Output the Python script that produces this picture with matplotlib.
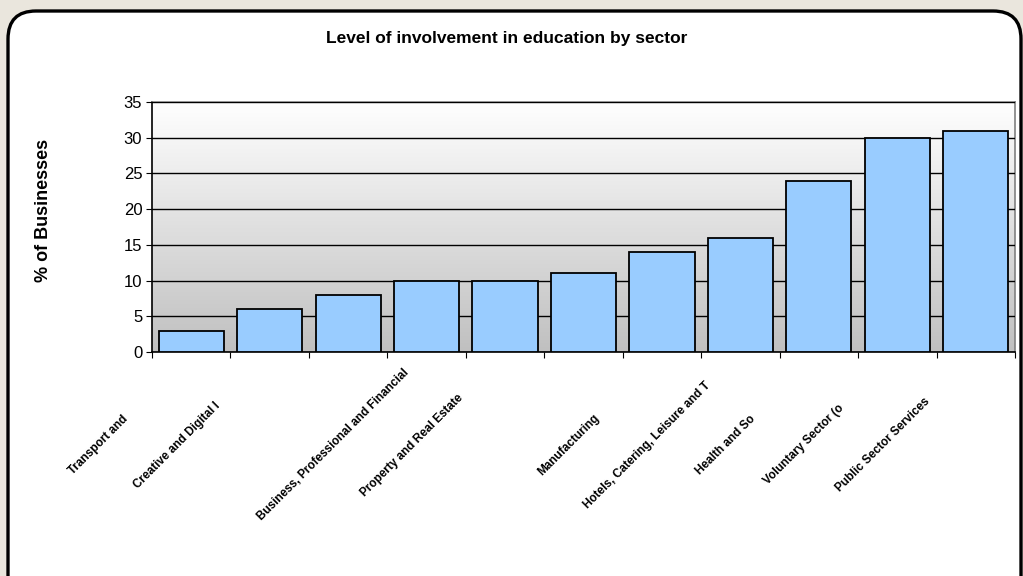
import numpy as np
import matplotlib
matplotlib.use("Agg")
import matplotlib.pyplot as plt
from matplotlib.patches import FancyBboxPatch
from matplotlib.transforms import blended_transform_factory, ScaledTranslation

plt.rcParams["font.family"] = ["Liberation Sans", "DejaVu Sans"]

# --- Data ---
sectors = [
    "Transport and",
    "Creative and Digital I",
    "",
    "Business, Professional and Financial",
    "Property and Real Estate",
    "",
    "Manufacturing",
    "Hotels, Catering, Leisure and T",
    "Health and So",
    "Voluntary Sector (o",
    "Public Sector Services",
]
pct_businesses = [3, 6, 8, 10, 10, 11, 14, 16, 24, 30, 31]
y_ticks = [0, 5, 10, 15, 20, 25, 30, 35]

# --- Colours ---
slide_bg = "#EAE6DD"
bar_color = "#99CCFF"

fig = plt.figure(figsize=(10.23, 5.76), dpi=100)
fig.patch.set_facecolor(slide_bg)

# rounded white panel behind the chart
panel = FancyBboxPatch((0.08, -0.4), 10.13, 6.05,
                       boxstyle="round,pad=0,rounding_size=0.28",
                       transform=fig.dpi_scale_trans,
                       facecolor="white", edgecolor="black", linewidth=2.4,
                       zorder=-5)
fig.patches.append(panel)

ax = fig.add_axes([152 / 1023, 1 - 352 / 576, 863 / 1023, 250 / 576])
ax.set_facecolor("none")

# grey gradient plot area
grad = np.linspace(1.0, 0.0, 256).reshape(-1, 1)
ax.imshow(grad, extent=[0, 1, 0, 1], transform=ax.transAxes, aspect="auto",
          cmap=matplotlib.colors.LinearSegmentedColormap.from_list(
              "plotarea", ["#C0C0C0", "#FFFFFF"]),
          vmin=0, vmax=1, zorder=0)

x = np.arange(len(pct_businesses))
ax.bar(x, pct_businesses, width=0.83, color=bar_color, edgecolor="black",
       linewidth=1.3, zorder=3)

ax.set_xlim(-0.5, len(pct_businesses) - 0.5)
ax.set_ylim(0, 35)
ax.set_yticks(y_ticks)
ax.set_yticklabels([str(v) for v in y_ticks], fontsize=12)
ax.yaxis.grid(True, color="black", linewidth=1, zorder=1)
ax.set_axisbelow(False)

# ticks between categories on the x axis
ax.set_xticks(np.arange(len(pct_businesses) + 1) - 0.5)
ax.set_xticklabels([])
ax.tick_params(axis="x", length=4, direction="out", color="black")
ax.tick_params(axis="y", length=4, direction="out", color="black", pad=3)

for side in ["top", "right"]:
    ax.spines[side].set_color("#808080")
    ax.spines[side].set_linewidth(1.2)
for side in ["left", "bottom"]:
    ax.spines[side].set_color("black")
    ax.spines[side].set_linewidth(1.2)

# rotated category labels, centred on a diagonal below each bar
base = blended_transform_factory(ax.transData, ax.transAxes)
shift = ScaledTranslation(-0.93, -0.93, fig.dpi_scale_trans)
for xi, name in zip(x, sectors):
    if name:
        ax.text(xi, 0, name, transform=base + shift, rotation=45,
                rotation_mode="anchor", ha="center", va="center",
                fontsize=8.5, fontweight="bold", color="black")

ax.set_ylabel("% of Businesses", fontsize=13, fontweight="bold")
ax.yaxis.set_label_coords((52 - 152) / 863, (352 - 210) / 250)
fig.text(507 / 1023, 1 - 38 / 576, "Level of involvement in education by sector",
         ha="center", va="center", fontsize=12.5, fontweight="bold")

fig.savefig("out.png", dpi=100, facecolor=fig.get_facecolor())
